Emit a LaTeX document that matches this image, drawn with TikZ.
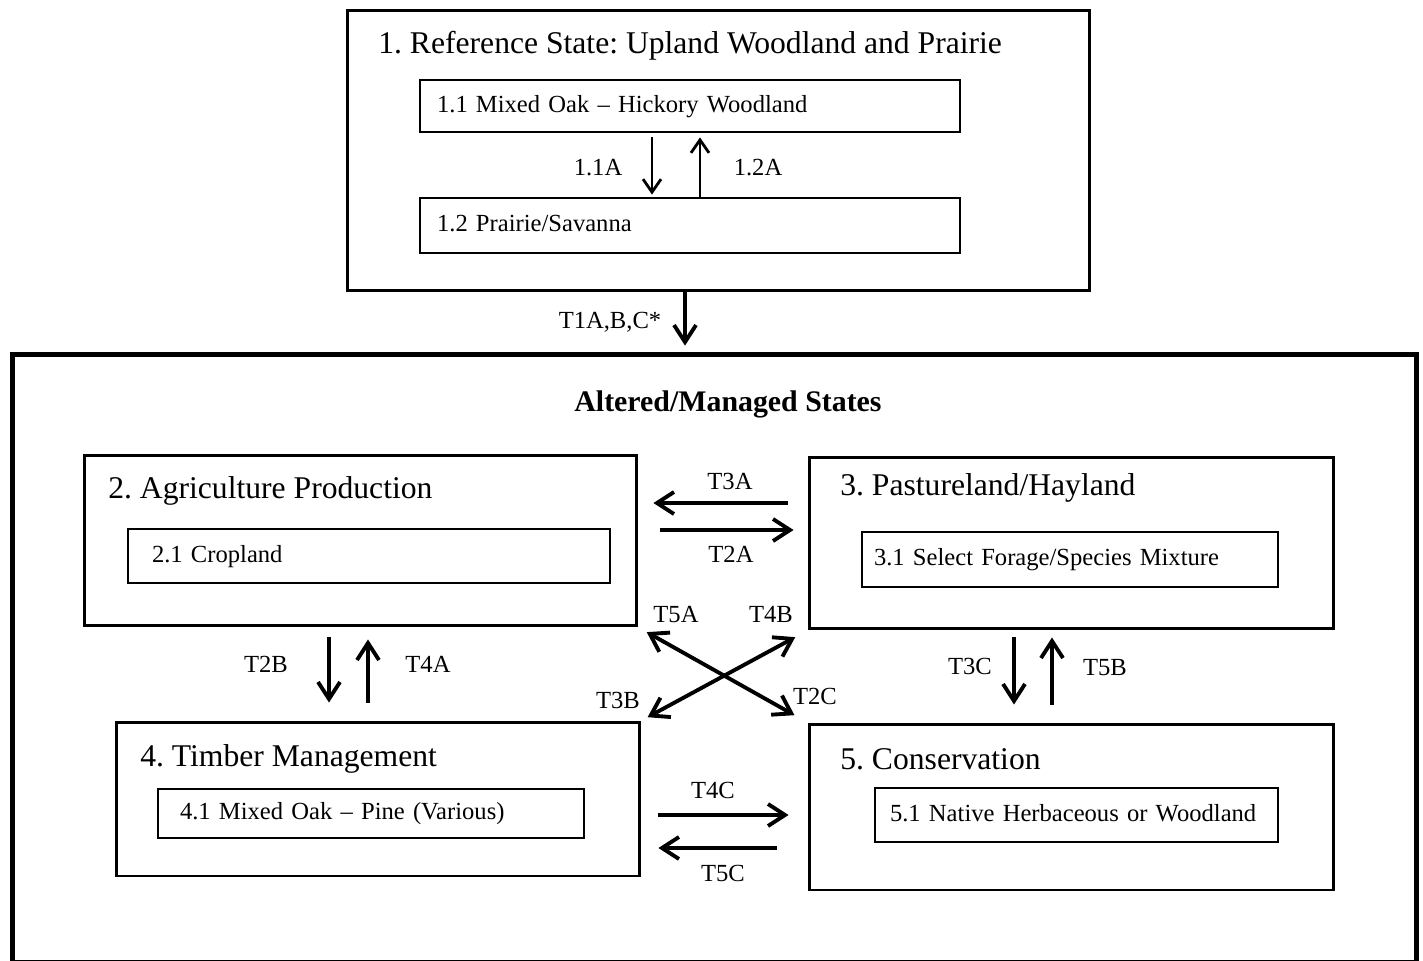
\documentclass[tikz,border=0pt]{standalone}
\usepackage{fontspec}
\setmainfont{Liberation Serif}
\usetikzlibrary{arrows.meta}

\begin{document}
\frenchspacing
\begin{tikzpicture}[x=0.02cm, y=-0.02cm,
	state/.style={draw, rectangle, line width=1.7pt, inner sep=0pt},
	phase/.style={draw, rectangle, line width=1.6pt, inner ysep=0pt, text height=10pt, text depth=3pt, align=left, font=\fontsize{14}{16}\selectfont},
	ttl/.style={anchor=west, inner sep=0pt, font=\fontsize{18}{20}\selectfont},
	lbl/.style={inner sep=0pt, font=\fontsize{14}{16}\selectfont},
	tr/.style={-{Straight Barb[length=0.34cm, width=0.44cm]}, line width=2.2pt},
	trd/.style={{Straight Barb[length=0.34cm, width=0.44cm]}-{Straight Barb[length=0.34cm, width=0.44cm]}, line width=2.2pt},
	trs/.style={-{Straight Barb[length=0.26cm, width=0.36cm]}, line width=1.6pt}]
					\useasboundingbox (0, 0) rectangle (1423, 960);
					\node[state, minimum width=14.86cm, minimum height=5.62cm] (S1)at(718.5, 150.5) {};
					\node[ttl] (S1t)at(378, 46) {1. Reference State: Upland Woodland and Prairie};
					\node[phase, inner xsep=0.34cm, text width=10.12cm, minimum height=1.04cm] (S11)at(690, 106) {1.1 Mixed Oak – Hickory Woodland};
					\node[phase, inner xsep=0.34cm, text width=10.12cm, minimum height=1.1cm] (S12)at(690, 225.5) {1.2 Prairie/Savanna};
					\node[state, line width=2.8pt, minimum width=28.1cm, minimum height=12.18cm] (ALT)at(714.5, 658.5) {};
					\node[inner sep=0pt, font=\bfseries\fontsize{17}{19}\selectfont] (ALTt)at(728, 404) {Altered/Managed States};
					\node[state, minimum width=11.06cm, minimum height=3.42cm] (S2)at(360.5, 540.5) {};
					\node[ttl] (S2t)at(108, 491) {2. Agriculture Production};
					\node[phase, inner xsep=0.48cm, text width=8.68cm, minimum height=1.08cm] (S21)at(369, 556) {2.1 Cropland};
					\node[state, minimum width=10.5cm, minimum height=3.44cm] (S3)at(1071.5, 543) {};
					\node[ttl] (S3t)at(840, 488) {3. Pastureland/Hayland};
					\node[phase, inner xsep=0.24cm, text width=7.84cm, minimum height=1.1cm] (S31)at(1070, 559.5) {3.1 Select Forage/Species Mixture};
					\node[state, minimum width=10.48cm, minimum height=3.08cm] (S4)at(378, 799) {};
					\node[ttl] (S4t)at(140, 759) {4. Timber Management};
					\node[phase, inner xsep=0.44cm, text width=7.64cm, minimum height=0.98cm] (S41)at(371, 813.5) {4.1 Mixed Oak – Pine (Various)};
					\node[state, minimum width=10.5cm, minimum height=3.32cm] (S5)at(1071.5, 807) {};
					\node[ttl] (S5t)at(840, 759) {5. Conservation};
					\node[phase, inner xsep=0.3cm, text width=7.46cm, minimum height=1.08cm] (S51)at(1076.5, 815) {5.1 Native Herbaceous or Woodland};
					\draw[trs, shorten <=0.08cm, shorten >=0.04cm] ([xshift=-0.76cm]S11.south) -- ([xshift=-0.76cm]S11.south |- S12.north);
					\draw[trs, shorten >=0.08cm] ([xshift=0.2cm]S11.south |- S12.north) -- ([xshift=0.2cm]S11.south);
					\draw[tr, shorten >=0.12cm] ([xshift=-0.67cm]S1.south) -- ([xshift=-0.67cm]S1.south |- ALT.north);
					\draw[tr, shorten <=0.4cm, shorten >=0.3cm] ([yshift=0.8cm]S3.west) -- ([yshift=0.8cm]S3.west -| S2.east);
					\draw[tr, shorten <=0.44cm, shorten >=0.28cm] ([yshift=0.21cm]S2.east) -- ([yshift=0.21cm]S2.east -| S3.west);
					\draw[tr, shorten <=0.2cm, shorten >=0.36cm] ([xshift=-0.63cm]S2.south) -- ([xshift=-0.63cm]S2.south |- S4.north);
					\draw[tr, shorten <=0.36cm, shorten >=0.24cm] ([xshift=0.15cm]S2.south |- S4.north) -- ([xshift=0.15cm]S2.south);
					\draw[tr, shorten <=0.14cm, shorten >=0.36cm] ([xshift=-1.15cm]S3.south) -- ([xshift=-1.15cm]S3.south |- S5.north);
					\draw[tr, shorten <=0.36cm, shorten >=0.14cm] ([xshift=-0.39cm]S3.south |- S5.north) -- ([xshift=-0.39cm]S3.south);
					\draw[tr, shorten <=0.34cm, shorten >=0.38cm] ([yshift=-0.32cm]S4.east) -- ([yshift=-0.32cm]S4.east -| S5.west);
					\draw[tr, shorten <=0.62cm, shorten >=0.34cm] ([yshift=-0.82cm]S5.west) -- ([yshift=-0.82cm]S5.west -| S4.east);
					\draw[trd, shorten <=0.19cm, shorten >=0.3cm] (S2.south east) -- (S5.north west);
					\draw[trd, shorten <=0.14cm, shorten >=0.28cm] (S4.north east) -- (S3.south west);
					\node[lbl] (L11A)at(598, 168) {1.1A};
					\node[lbl] (L12A)at(758, 168) {1.2A};
					\node[lbl] (LT1)at(610, 322) {T1A,B,C*};
					\node[lbl] (LT3A)at(730, 481) {T3A};
					\node[lbl] (LT2A)at(731, 554) {T2A};
					\node[lbl] (LT2B)at(266, 664) {T2B};
					\node[lbl] (LT4A)at(428, 664) {T4A};
					\node[lbl] (LT5A)at(676, 614) {T5A};
					\node[lbl] (LT4B)at(771, 614) {T4B};
					\node[lbl] (LT3B)at(618, 700) {T3B};
					\node[lbl] (LT2C)at(815, 696) {T2C};
					\node[lbl] (LT3C)at(970, 666) {T3C};
					\node[lbl] (LT5B)at(1105, 668) {T5B};
					\node[lbl] (LT4C)at(713, 790) {T4C};
					\node[lbl] (LT5C)at(723, 873) {T5C};
				\end{tikzpicture}
\end{document}
